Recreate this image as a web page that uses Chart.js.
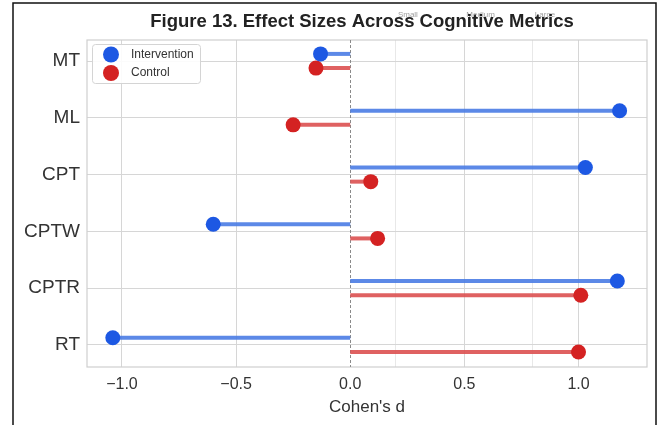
<!DOCTYPE html>
<html>
<head>
<meta charset="utf-8">
<script src="https://cdn.jsdelivr.net/npm/chart.js@4"></script>
<style>
  html, body { margin: 0; padding: 0; background: #fff; }
  canvas { display: block; }
</style>
</head>
<body>
<canvas id="c" width="662" height="425"></canvas>
<script>
// ---- data ----
const metrics = ["MT", "ML", "CPT", "CPTW", "CPTR", "RT"];
const intervention = [-0.13, 1.18, 1.03, -0.60, 1.17, -1.04];
const control = [-0.15, -0.25, 0.09, 0.12, 1.01, 1.00];
const xTickValues = [-1.0, -0.5, 0.0, 0.5, 1.0];
const thresholdValues = [0.2, 0.5, 0.8];
const thresholdLabels = ["Small", "Medium", "Large"];
const seriesNames = ["Intervention", "Control"];
const chartTitle = "Figure 13. Effect Sizes Across Cognitive Metrics";

const FONT = "'Liberation Sans', Arial, Helvetica, sans-serif";
const BLUE_DOT = "#1d58e3", BLUE_LINE = "rgba(74,124,228,0.9)";
const RED_DOT = "#d42222", RED_LINE = "rgba(220,80,80,0.9)";
const OFF = 0.125;

const datasets = [];
function addSeries(values, offset, lineColor, dotColor, name) {
  values.forEach((v, i) => {
    datasets.push({
      label: "_stem",
      data: [{x: 0, y: i + offset}, {x: v, y: i + offset}],
      showLine: true, borderColor: lineColor, borderWidth: 4,
      pointRadius: 0, pointHoverRadius: 0, order: 2
    });
  });
  datasets.push({
    label: name,
    data: values.map((v, i) => ({x: v, y: i + offset})),
    showLine: false, pointRadius: 7.5, pointHoverRadius: 7.5,
    backgroundColor: dotColor, borderColor: dotColor, borderWidth: 0, order: 1
  });
}
addSeries(intervention, -OFF, BLUE_LINE, BLUE_DOT, seriesNames[0]);
addSeries(control, OFF, RED_LINE, RED_DOT, seriesNames[1]);

const decor = {
  id: "decor",
  beforeDraw(chart) {
    const ctx = chart.ctx, x = chart.scales.x, a = chart.chartArea;
    ctx.save();
    // outer frame
    ctx.strokeStyle = "#111"; ctx.lineWidth = 1.5;
    ctx.beginPath();
    ctx.moveTo(13, 425); ctx.lineTo(13, 3); ctx.lineTo(656, 3); ctx.lineTo(656, 425);
    ctx.stroke();
    // threshold labels (behind title)
    ctx.fillStyle = "#a0a0a0"; ctx.font = "8px " + FONT;
    ctx.textAlign = "left"; ctx.textBaseline = "middle";
    thresholdValues.forEach((t, k) => ctx.fillText(thresholdLabels[k], x.getPixelForValue(t) + 2, 15));
    // title
    ctx.fillStyle = "#222"; ctx.font = "bold 18.5px " + FONT;
    ctx.textAlign = "center"; ctx.textBaseline = "middle";
    ctx.fillText(chartTitle, (a.left + a.right) / 2 - 5, 22);
    ctx.restore();
  },
  beforeDatasetsDraw(chart) {
    const ctx = chart.ctx, a = chart.chartArea, x = chart.scales.x;
    ctx.save();
    ctx.strokeStyle = "#cfcfcf"; ctx.lineWidth = 1.2;
    ctx.strokeRect(a.left, a.top, a.right - a.left, a.bottom - a.top);
    const x0 = Math.round(x.getPixelForValue(0)) + 0.5;
    ctx.strokeStyle = "#8a8a8a"; ctx.lineWidth = 1; ctx.setLineDash([3, 2]);
    ctx.beginPath(); ctx.moveTo(x0, a.top); ctx.lineTo(x0, a.bottom); ctx.stroke();
    ctx.restore();
  },
  afterDraw(chart) {
    const ctx = chart.ctx;
    const dots = chart.data.datasets.filter(d => d.label !== "_stem");
    const bx = 92, by = 44, bw = 108, bh = 39;
    ctx.save();
    ctx.fillStyle = "rgba(255,255,255,0.9)";
    ctx.strokeStyle = "#d4d4d4"; ctx.lineWidth = 1;
    ctx.beginPath();
    ctx.roundRect(bx + 0.5, by + 0.5, bw, bh, 3);
    ctx.fill(); ctx.stroke();
    ctx.font = "12px " + FONT;
    ctx.textBaseline = "middle"; ctx.textAlign = "left";
    dots.forEach((d, k) => {
      const cy = by + 10.5 + k * 18.5;
      ctx.fillStyle = d.backgroundColor;
      ctx.beginPath(); ctx.arc(bx + 19, cy, 8, 0, Math.PI * 2); ctx.fill();
      ctx.fillStyle = "#333";
      ctx.fillText(d.label, bx + 39, cy);
    });
    ctx.restore();
  }
};

new Chart(document.getElementById("c"), {
  type: "scatter",
  data: { datasets },
  plugins: [decor],
  options: {
    responsive: false, animation: false,
    layout: { padding: { left: 0, right: 15, top: 40, bottom: 0 } },
    plugins: {
      legend: { display: false },
      tooltip: { enabled: false },
      title: { display: false }
    },
    scales: {
      x: {
        type: "linear", min: -1.153, max: 1.30,
        afterBuildTicks(s) { s.ticks = xTickValues.concat(thresholdValues.filter(t => !xTickValues.includes(t))).sort((a, b) => a - b).map(v => ({value: v})); },
        afterFit(s) { s.height = 58; },
        ticks: {
          color: "#333", font: { family: FONT, size: 16 }, padding: 8,
          callback(v) { return xTickValues.includes(v) ? (v < 0 ? "\u2212" : "") + Math.abs(v).toFixed(1) : ""; },
          maxRotation: 0, autoSkip: false
        },
        grid: {
          drawTicks: false,
          color(ctx) { const v = ctx.tick && ctx.tick.value; if (v === 0) return "rgba(0,0,0,0)"; return xTickValues.includes(v) ? "#d6d6d6" : "#e8e8e8"; },
          lineWidth: 1
        },
        border: { display: false },
        title: {
          display: true, text: "Cohen's d", color: "#333",
          font: { family: FONT, size: 17 }, padding: { top: 0, bottom: 7 }
        }
      },
      y: {
        type: "linear", min: -0.37, max: 5.39, reverse: true,
        afterBuildTicks(s) { s.ticks = metrics.map((m, i) => ({value: i})); },
        afterFit(s) { s.width = 87; },
        ticks: {
          color: "#333", font: { family: FONT, size: 19 }, padding: 7,
          callback(v) { return metrics[v]; }, autoSkip: false
        },
        grid: { drawTicks: false, color: "#d6d6d6", lineWidth: 1 },
        border: { display: false }
      }
    }
  }
});
</script>
</body>
</html>
